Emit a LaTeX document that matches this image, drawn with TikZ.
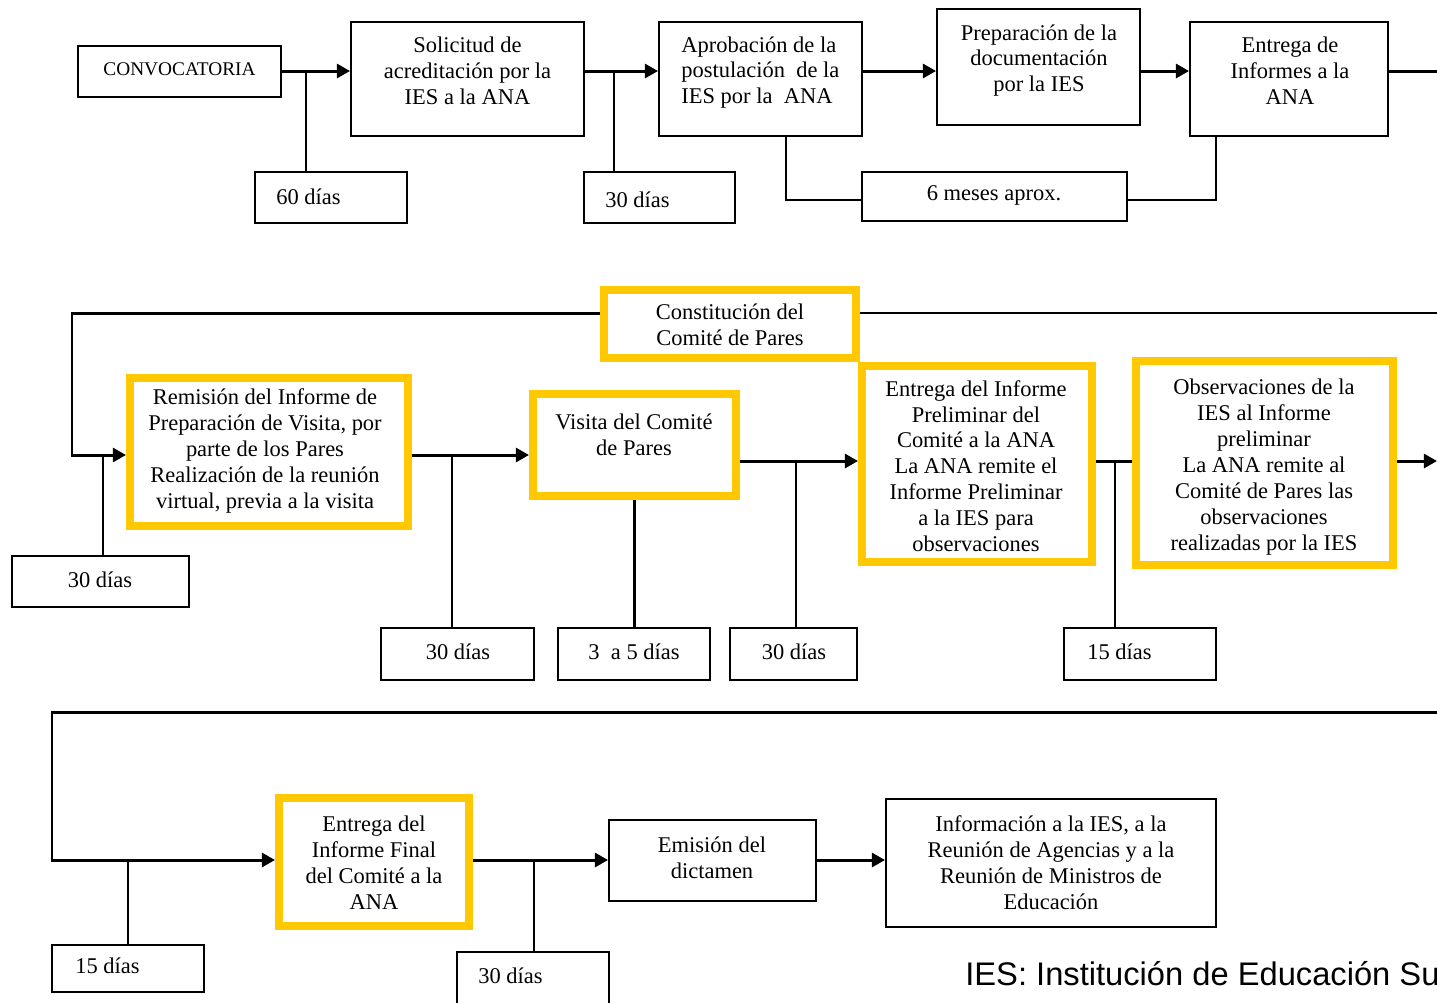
\documentclass[tikz,border=0pt]{standalone}
\usepackage{fontspec}
\setmainfont{Liberation Serif}
\newfontfamily\sansfoot{Liberation Sans}
\usetikzlibrary{arrows.meta}
\definecolor{gold}{RGB}{255,200,0}
\newcommand\mkbox[6]{\node[#2,minimum width=#5*0.02cm,minimum height=#6*0.02cm] (#1) at (#3,#4) {};}
\begin{document}
\begin{tikzpicture}[x=0.02cm,y=-0.02cm,
  box/.style={draw=black,line width=1.1pt,inner sep=0pt,fill=white},
  ybox/.style={draw=gold,line width=0.16cm,inner sep=0pt,fill=white},
  txt/.style={font=\fontsize{12.8}{14.74}\selectfont,align=center,inner sep=0pt},
  conn/.style={line width=1.3pt},
  arr/.style={line width=1.7pt,-{Triangle[length=7.5pt,width=8pt]}},
]
\useasboundingbox (0,0) rectangle (1437,1002);
\clip (0,0) rectangle (1437,1002);
% ---------- row 1 ----------
\mkbox{conv}{box}{179.5}{71.5}{203}{51}
\mkbox{sol}{box}{467.5}{79}{233}{114}
\mkbox{apr}{box}{760.5}{79}{203}{114}
\mkbox{prep}{box}{1038.5}{67}{203}{116}
\mkbox{ent}{box}{1289}{79}{198}{114}
\mkbox{d60}{box}{331}{197.5}{152}{51}
\mkbox{d30a}{box}{659.5}{197.5}{151}{51}
\mkbox{m6}{box}{994.5}{196.5}{265}{49}
\node[txt] (tconv) at (179.5,69) {\fontsize{11}{13}\selectfont CONVOCATORIA};
\node[txt] (tsol) at (467.5,71) {Solicitud de\\acreditación por la\\IES a la ANA};
\node[txt,align=left,anchor=west] (tapr) at (681,72.5) {Aprobación de la\\postulación\ \ de la\\IES por la\ \ ANA};
\node[txt] (tprep) at (1039,60.5) {Preparación de la\\documentación\\por la IES};
\node[txt] (tent) at (1290,71) {Entrega de\\Informes a la\\ANA};
\node[txt,anchor=west] (td60) at (276,197) {60 días};
\node[txt,anchor=west] (td30a) at (605,200) {30 días};
\node[txt] (tm6) at (994,195) {6 meses aprox.};
\coordinate (a1) at (306,71);
\coordinate (a2) at (614,71);
\coordinate (r1) at (1437,71);
\coordinate (a3) at (786,200);
\coordinate (a4) at (1216,200);
\draw[arr] (conv.east |- a1) -- (sol.west |- a1);
\draw[conn] (a1) -- (a1 |- d60.north);
\draw[arr] (sol.east |- a2) -- (apr.west |- a2);
\draw[conn] (a2) -- (a2 |- d30a.north);
\draw[arr] (apr.east |- a2) -- (prep.west |- a2);
\draw[arr] (prep.east |- a2) -- (ent.west |- a2);
\draw[arr,-] (ent.east |- r1) -- (r1);
\draw[conn] (apr.south -| a3) -- (a3) -- (m6.west |- a3);
\draw[conn] (m6.east |- a4) -- (a4) -- (ent.south -| a4);
% ---------- row 2 ----------
\mkbox{const}{ybox}{730}{324}{252}{68}
\mkbox{rem}{ybox}{269}{452}{278}{148}
\mkbox{vis}{ybox}{634.5}{445}{203}{102}
\mkbox{epre}{ybox}{977}{464}{230}{196}
\mkbox{obs}{ybox}{1264.5}{463}{257}{204}
\mkbox{d30b}{box}{100.5}{581.5}{177}{51}
\mkbox{d30c}{box}{457.5}{654}{153}{52}
\mkbox{d35}{box}{634}{654}{152}{52}
\mkbox{d30d}{box}{793.5}{654}{127}{52}
\mkbox{d15a}{box}{1140}{654}{152}{52}
\node[txt] (tconst) at (730,325) {Constitución del\\Comité de Pares};
\node[txt] (trem) at (265,451) {Remisión del Informe de\\Preparación de Visita, por\\parte de los Pares\\Realización de la reunión\\virtual, previa a la visita};
\node[txt] (tvis) at (634,435) {Visita del Comité\\de Pares};
\node[txt] (tepre) at (976,466) {Entrega del Informe\\Preliminar del\\Comité a la ANA\\La ANA remite el\\Informe Preliminar\\a la IES para\\observaciones};
\node[txt] (tobs) at (1264,467) {Observaciones de la\\IES al Informe\\preliminar\\La ANA remite al\\Comité de Pares las\\observaciones\\realizadas por la IES};
\node[txt] (td30b) at (100,580) {30 días};
\node[txt] (td30c) at (458,652) {30 días};
\node[txt] (td35) at (634,652) {3\ \ a 5 días};
\node[txt] (td30d) at (794,652) {30 días};
\node[txt,anchor=west] (td15a) at (1087,652) {15 días};
\coordinate (r2) at (1437,313);
\coordinate (b1) at (72,313);
\coordinate (b2) at (72,455);
\coordinate (b3) at (103,455);
\coordinate (b4) at (452,455);
\coordinate (b5) at (796,461);
\coordinate (b6) at (1115,461);
\coordinate (r3) at (1437,461);
\draw[conn] (const.east |- r2) -- (r2);
\draw[arr] (const.west |- b1) -- (b1) -- (b2) -- (rem.west |- b2);
\draw[conn] (b3) -- (b3 |- d30b.north);
\draw[arr] (rem.east |- b4) -- (vis.west |- b4);
\draw[conn] (b4) -- (b4 |- d30c.north);
\draw[conn] (vis.south) -- (vis.south |- d35.north);
\draw[arr] (vis.east |- b5) -- (epre.west |- b5);
\draw[conn] (b5) -- (b5 |- d30d.north);
\draw[arr,-] (epre.east |- b6) -- (obs.west |- b6);
\draw[conn] (b6) -- (b6 |- d15a.north);
\draw[arr] (obs.east |- r3) -- (r3);
% ---------- row 3 ----------
\mkbox{efin}{ybox}{374}{862}{190}{128}
\mkbox{emi}{box}{712.5}{860.5}{207}{81}
\mkbox{inf}{box}{1051}{863}{330}{128}
\mkbox{d15b}{box}{128}{968.5}{152}{47}
\mkbox{d30e}{box}{533}{980}{152}{56}
\node[txt] (tefin) at (374,863) {Entrega del\\Informe Final\\del Comité a la\\ANA};
\node[txt] (temi) at (712,858) {Emisión del\\dictamen};
\node[txt] (tinf) at (1051,863) {Información a la IES, a la\\Reunión de Agencias y a la\\Reunión de Ministros de\\Educación};
\node[txt,anchor=west] (td15b) at (75,966) {15 días};
\node[txt,anchor=west] (td30e) at (478,976) {30 días};
\coordinate (r4) at (1437,712);
\coordinate (c1) at (52,712);
\coordinate (c2) at (52,860);
\coordinate (c3) at (128,860);
\coordinate (c4) at (534,860);
\draw[arr] (r4) -- (c1) -- (c2) -- (efin.west |- c2);
\draw[conn] (c3) -- (c3 |- d15b.north);
\draw[arr] (efin.east |- c4) -- (emi.west |- c4);
\draw[conn] (c4) -- (c4 |- d30e.north);
\draw[arr] (emi.east |- c4) -- (inf.west |- c4);
\node[font=\sansfoot\fontsize{18.6}{20}\selectfont,anchor=base west,inner sep=0pt] (foot) at (965,985) {IES: Institución de Educación Su};
\end{tikzpicture}
\end{document}
